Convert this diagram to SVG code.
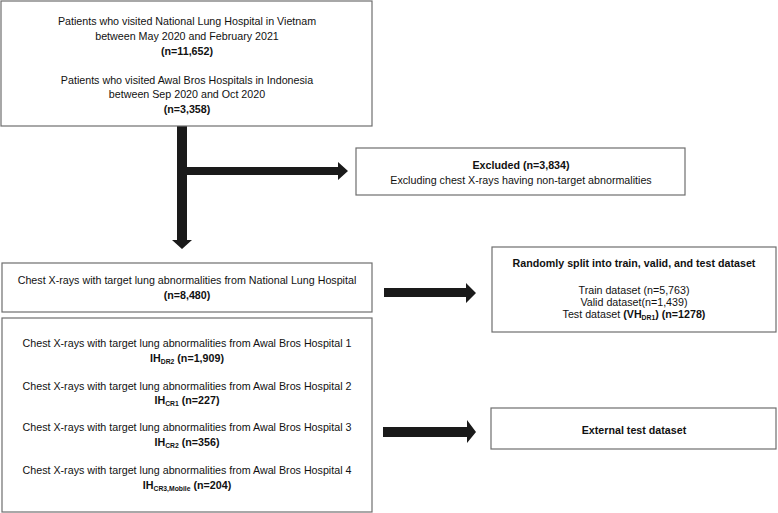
<svg xmlns="http://www.w3.org/2000/svg" width="778" height="513" viewBox="0 0 778 513">
<style>
.box{fill:#fff;stroke:#6e6e6e;stroke-width:1.2}
text{font-family:"Liberation Sans",Arial,sans-serif;font-size:10.7px;fill:#111;text-anchor:middle}
.b{font-weight:bold}
.sub{font-size:6.8px;font-weight:bold}
.arrow{fill:#1a1a1a}
</style>
<rect width="778" height="513" fill="#fff"/>
<g id="connectors">
<path class="arrow" d="M177,126 H187 V167 H338 V162 L348,171 L338,180 V175 H187 V240 H192 L182,249 L172,240 H177 Z"/>
<path class="arrow" d="M384,288 H466 V283 L476,293 L466,303 V297 H384 Z"/>
<path class="arrow" d="M383,427 H467 V420 L476,432 L467,443 V437 H383 Z"/>
</g>
<g id="n1">
<rect class="box" x="1" y="1" width="371" height="125"/>
<text x="187" y="25">Patients who visited National Lung Hospital in Vietnam</text>
<text x="187" y="40">between May 2020 and February 2021</text>
<text x="187" y="55" class="b">(n=11,652)</text>
<text x="187" y="84">Patients who visited Awal Bros Hospitals in Indonesia</text>
<text x="187" y="98">between Sep 2020 and Oct 2020</text>
<text x="187" y="113" class="b">(n=3,358)</text>
</g>
<g id="excluded">
<rect class="box" x="356" y="148" width="329" height="47"/>
<text x="521" y="169" class="b">Excluded (n=3,834)</text>
<text x="521" y="184">Excluding chest X-rays having non-target abnormalities</text>
</g>
<g id="national">
<rect class="box" x="2" y="263" width="370" height="49"/>
<text x="187" y="284">Chest X-rays with target lung abnormalities from National Lung Hospital</text>
<text x="187" y="299" class="b">(n=8,480)</text>
</g>
<g id="split">
<rect class="box" x="492" y="247" width="284" height="85"/>
<text x="634" y="267" class="b">Randomly split into train, valid, and test dataset</text>
<text x="634" y="294">Train dataset (n=5,763)</text>
<text x="634" y="306">Valid dataset(n=1,439)</text>
<text x="634" y="318">Test dataset <tspan class="b">(VH</tspan><tspan class="sub" dy="2">DR1</tspan><tspan class="b" dy="-2">) (n=1278)</tspan></text>
</g>
<g id="awal">
<rect class="box" x="2" y="318" width="370" height="194"/>
<text x="187" y="347">Chest X-rays with target lung abnormalities from Awal Bros Hospital 1</text>
<text x="187" y="362" class="b">IH<tspan class="sub" dy="2">DR2</tspan><tspan dy="-2"> (n=1,909)</tspan></text>
<text x="187" y="390">Chest X-rays with target lung abnormalities from Awal Bros Hospital 2</text>
<text x="187" y="404" class="b">IH<tspan class="sub" dy="2">CR1</tspan><tspan dy="-2"> (n=227)</tspan></text>
<text x="187" y="431">Chest X-rays with target lung abnormalities from Awal Bros Hospital 3</text>
<text x="187" y="446" class="b">IH<tspan class="sub" dy="2">CR2</tspan><tspan dy="-2"> (n=356)</tspan></text>
<text x="187" y="474">Chest X-rays with target lung abnormalities from Awal Bros Hospital 4</text>
<text x="187" y="489" class="b">IH<tspan class="sub" dy="2">CR3,Mobile</tspan><tspan dy="-2"> (n=204)</tspan></text>
</g>
<g id="external">
<rect class="box" x="491" y="408" width="285" height="41"/>
<text x="634" y="434" class="b">External test dataset</text>
</g>
</svg>
